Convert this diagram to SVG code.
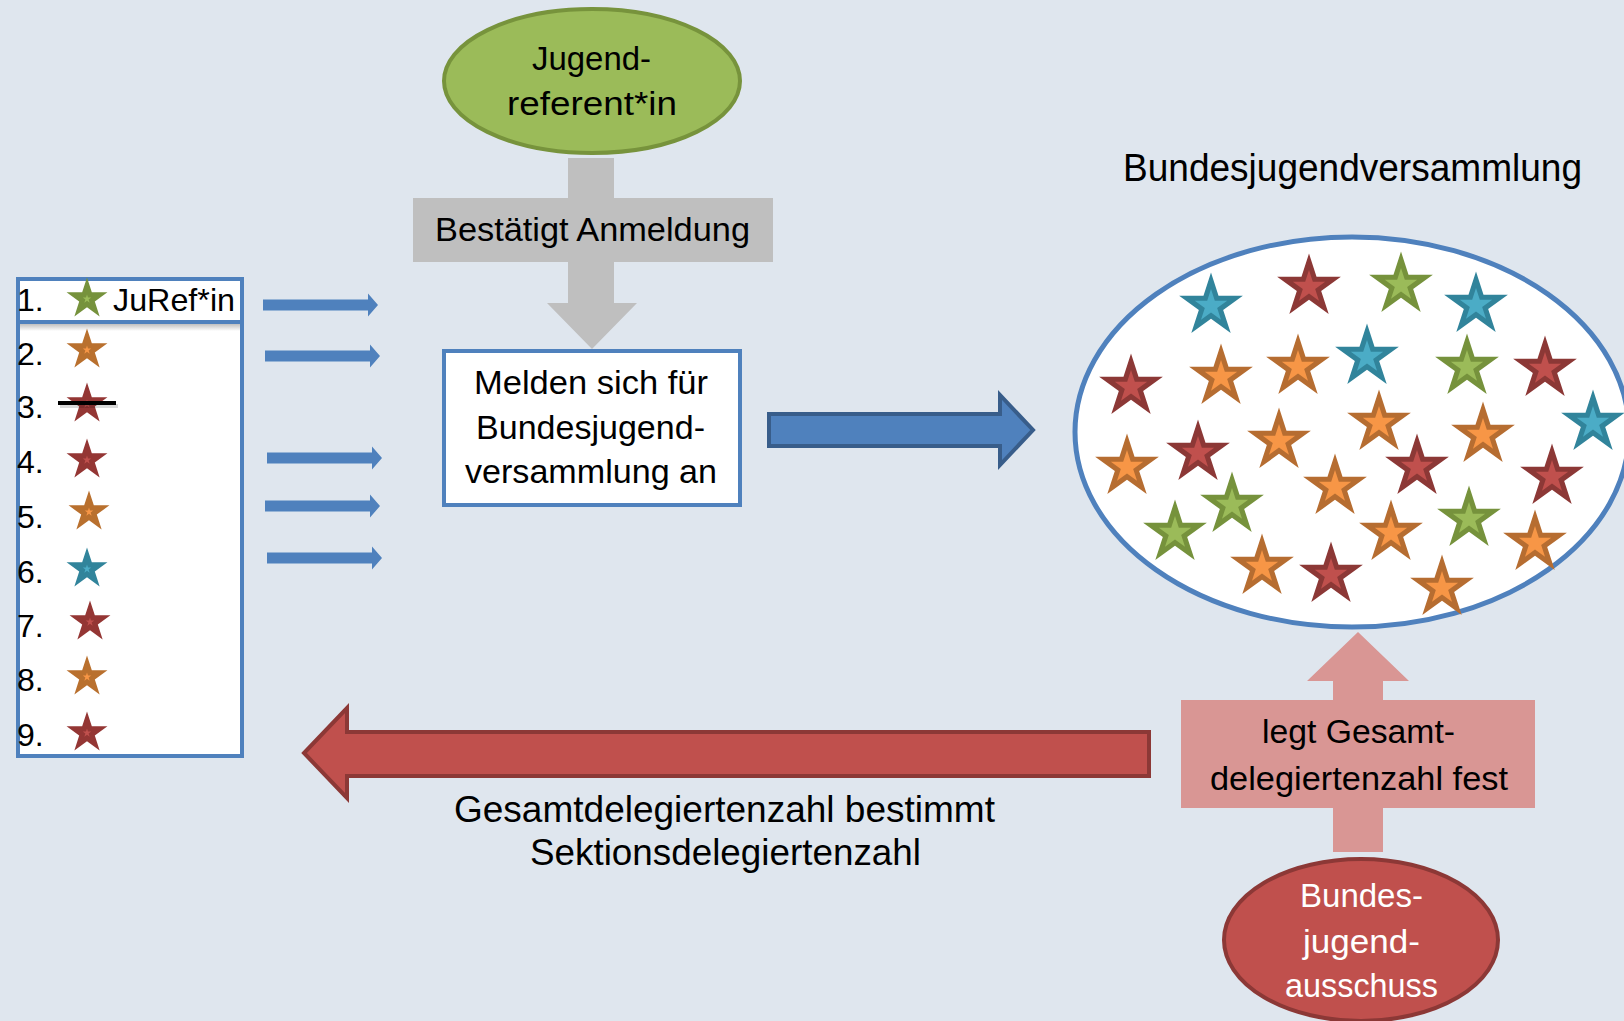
<svg xmlns="http://www.w3.org/2000/svg" xmlns:xlink="http://www.w3.org/1999/xlink" width="1624" height="1021" viewBox="0 0 1624 1021">
<style>
text{font-family:"Liberation Sans",Arial,sans-serif;fill:#000}
.t33{font-size:33px}
.t32{font-size:32px}
.t36{font-size:36px}
.t38{font-size:38px}
.wt{fill:#fff}
.rd{fill:#8c3836}.rl{fill:#c0504d}
.od{fill:#b66d31}.ol{fill:#f79646}
.gd{fill:#76923c}.gl{fill:#9bbb59}
.td{fill:#31849b}.tl{fill:#4bacc6}
</style>
<defs>
<path id="st" d="M0,-10 L2.245,-3.09 L9.511,-3.09 L3.633,1.18 L5.878,8.09 L0,3.82 L-5.878,8.09 L-3.633,1.18 L-9.511,-3.09 L-2.245,-3.09 Z"/>
<g id="bR"><use href="#st" class="rd" transform="scale(3.35)"/><use href="#st" class="rl" transform="scale(1.7)"/></g>
<g id="bO"><use href="#st" class="od" transform="scale(3.35)"/><use href="#st" class="ol" transform="scale(1.7)"/></g>
<g id="bG"><use href="#st" class="gd" transform="scale(3.35)"/><use href="#st" class="gl" transform="scale(1.7)"/></g>
<g id="bT"><use href="#st" class="td" transform="scale(3.35)"/><use href="#st" class="tl" transform="scale(1.7)"/></g>
<g id="lR"><use href="#st" fill="#943634" transform="scale(2.15)"/><use href="#st" fill="#c0504d" transform="scale(0.45)"/></g>
<g id="lO"><use href="#st" fill="#b9702e" transform="scale(2.15)"/><use href="#st" fill="#f79646" transform="scale(0.45)"/></g>
<g id="lG"><use href="#st" fill="#76923c" transform="scale(2.15)"/><use href="#st" fill="#9bbb59" transform="scale(0.45)"/></g>
<g id="lT"><use href="#st" fill="#31849b" transform="scale(2.15)"/><use href="#st" fill="#4bacc6" transform="scale(0.45)"/></g>
<path id="sa" d="M0,-5.5 H105 V-11.5 L115,0 L105,11.5 V5.5 H0 Z" fill="#4f81bd"/>
<linearGradient id="shd" x1="0" y1="0" x2="0" y2="1">
<stop offset="0" stop-color="#000" stop-opacity="0.25"/>
<stop offset="1" stop-color="#000" stop-opacity="0"/>
</linearGradient>
</defs>

<rect x="0" y="0" width="1624" height="1021" fill="#dfe6ee"/>

<g id="connectors">
<g id="arrow-bestaetigt">
<path d="M568,158 H614 V303 H637 L592,349 L547,303 H568 Z" fill="#bfbfbf"/>
<rect x="413" y="198" width="360" height="64" fill="#bfbfbf"/>
<text class="t33" x="592.5" y="241" text-anchor="middle" textLength="315" lengthAdjust="spacingAndGlyphs">Bestätigt Anmeldung</text>
</g>
<g id="arrows-small">
<use href="#sa" x="263" y="305"/>
<use href="#sa" x="265" y="356"/>
<use href="#sa" x="267" y="458"/>
<use href="#sa" x="265" y="506"/>
<use href="#sa" x="267" y="558"/>
</g>
<path id="arrow-big-blue" d="M769,414 H1000 V395 L1033,430 L1000,465 V446 H769 Z" fill="#4f81bd" stroke="#385d8a" stroke-width="4"/>
<g id="arrow-red">
<path d="M1149,732 H347 V708 L304,753 L347,798 V776 H1149 Z" fill="#c0504d" stroke="#8c3836" stroke-width="4"/>
<text class="t36" x="724.5" y="822" text-anchor="middle" textLength="541" lengthAdjust="spacingAndGlyphs">Gesamtdelegiertenzahl bestimmt</text>
<text class="t36" x="725.5" y="865" text-anchor="middle" textLength="391" lengthAdjust="spacingAndGlyphs">Sektionsdelegiertenzahl</text>
</g>
<g id="arrow-pink">
<path d="M1333,852 V681 H1307 L1358,632 L1409,681 H1383 V852 Z" fill="#d99694"/>
<rect x="1181" y="700" width="354" height="108" fill="#d99694"/>
<text class="t33" x="1358.5" y="743" text-anchor="middle" textLength="193" lengthAdjust="spacingAndGlyphs">legt Gesamt-</text>
<text class="t33" x="1359" y="790" text-anchor="middle" textLength="298" lengthAdjust="spacingAndGlyphs">delegiertenzahl fest</text>
</g>
</g>

<g id="node-jugendreferent">
<ellipse cx="592" cy="81" rx="148" ry="72" fill="#9bbb59" stroke="#77933c" stroke-width="4"/>
<text class="t33" x="591.5" y="70" text-anchor="middle" textLength="119" lengthAdjust="spacingAndGlyphs">Jugend-</text>
<text class="t33" x="592" y="115" text-anchor="middle" textLength="170" lengthAdjust="spacingAndGlyphs">referent*in</text>
</g>

<g id="node-melden">
<rect x="444" y="351" width="296" height="154" fill="#fff" stroke="#4f81bd" stroke-width="4"/>
<text class="t33" x="591" y="394" text-anchor="middle" textLength="234" lengthAdjust="spacingAndGlyphs">Melden sich für</text>
<text class="t33" x="590.5" y="439" text-anchor="middle" textLength="229" lengthAdjust="spacingAndGlyphs">Bundesjugend-</text>
<text class="t33" x="591" y="483" text-anchor="middle" textLength="252" lengthAdjust="spacingAndGlyphs">versammlung an</text>
</g>

<g id="node-liste">
<rect x="18" y="279" width="224" height="477" fill="#fff" stroke="#4f81bd" stroke-width="4"/>
<rect x="20" y="324" width="220" height="7" fill="url(#shd)"/>
<rect x="18" y="279" width="224" height="43" fill="#fff" stroke="#4f81bd" stroke-width="4"/>
<g class="t32">
<text x="17" y="311">1.</text>
<text x="17" y="365">2.</text>
<text x="17" y="418">3.</text>
<text x="17" y="473">4.</text>
<text x="17" y="528">5.</text>
<text x="17" y="583">6.</text>
<text x="17" y="637">7.</text>
<text x="17" y="691">8.</text>
<text x="17" y="746">9.</text>
<text x="113" y="311" textLength="122" lengthAdjust="spacingAndGlyphs">JuRef*in</text>
</g>
<use href="#lG" x="87" y="299"/>
<use href="#lO" x="87" y="350"/>
<use href="#lR" x="87" y="404"/>
<use href="#lR" x="87" y="460"/>
<use href="#lO" x="89" y="512"/>
<use href="#lT" x="87" y="569"/>
<use href="#lR" x="90" y="622"/>
<use href="#lO" x="87" y="677"/>
<use href="#lR" x="87" y="733"/>
<rect x="60" y="404" width="58" height="4" fill="#000" opacity="0.15"/>
<rect x="58" y="401" width="58" height="4" fill="#000"/>
</g>

<g id="node-bundesjugendversammlung">
<text class="t38" x="1123" y="181" textLength="459" lengthAdjust="spacingAndGlyphs">Bundesjugendversammlung</text>
<ellipse cx="1352" cy="432" rx="277" ry="195" fill="#fff" stroke="#4f81bd" stroke-width="5"/>
<use href="#bT" x="1211" y="306"/>
<use href="#bR" x="1309" y="287"/>
<use href="#bG" x="1401" y="285"/>
<use href="#bT" x="1476" y="305"/>
<use href="#bR" x="1131" y="387"/>
<use href="#bO" x="1221" y="377"/>
<use href="#bO" x="1298" y="367"/>
<use href="#bT" x="1367" y="357"/>
<use href="#bG" x="1467" y="367"/>
<use href="#bR" x="1545" y="369"/>
<use href="#bT" x="1593" y="423"/>
<use href="#bO" x="1379" y="423"/>
<use href="#bO" x="1483" y="435"/>
<use href="#bO" x="1279" y="441"/>
<use href="#bR" x="1198" y="453"/>
<use href="#bO" x="1127" y="467"/>
<use href="#bR" x="1417" y="467"/>
<use href="#bO" x="1335" y="487"/>
<use href="#bR" x="1552" y="477"/>
<use href="#bG" x="1232" y="505"/>
<use href="#bG" x="1175" y="533"/>
<use href="#bO" x="1391" y="533"/>
<use href="#bG" x="1469" y="519"/>
<use href="#bO" x="1535" y="543"/>
<use href="#bO" x="1262" y="567"/>
<use href="#bR" x="1331" y="575"/>
<use href="#bO" x="1442" y="588"/>
</g>

<g id="node-bundesjugendausschuss">
<ellipse cx="1361" cy="940" rx="137" ry="81" fill="#c0504d" stroke="#8c3836" stroke-width="4"/>
<text class="t33 wt" x="1361.5" y="907" text-anchor="middle" textLength="123" lengthAdjust="spacingAndGlyphs">Bundes-</text>
<text class="t33 wt" x="1361.5" y="953" text-anchor="middle" textLength="117" lengthAdjust="spacingAndGlyphs">jugend-</text>
<text class="t33 wt" x="1361.5" y="997" text-anchor="middle" textLength="153" lengthAdjust="spacingAndGlyphs">ausschuss</text>
</g>
</svg>
